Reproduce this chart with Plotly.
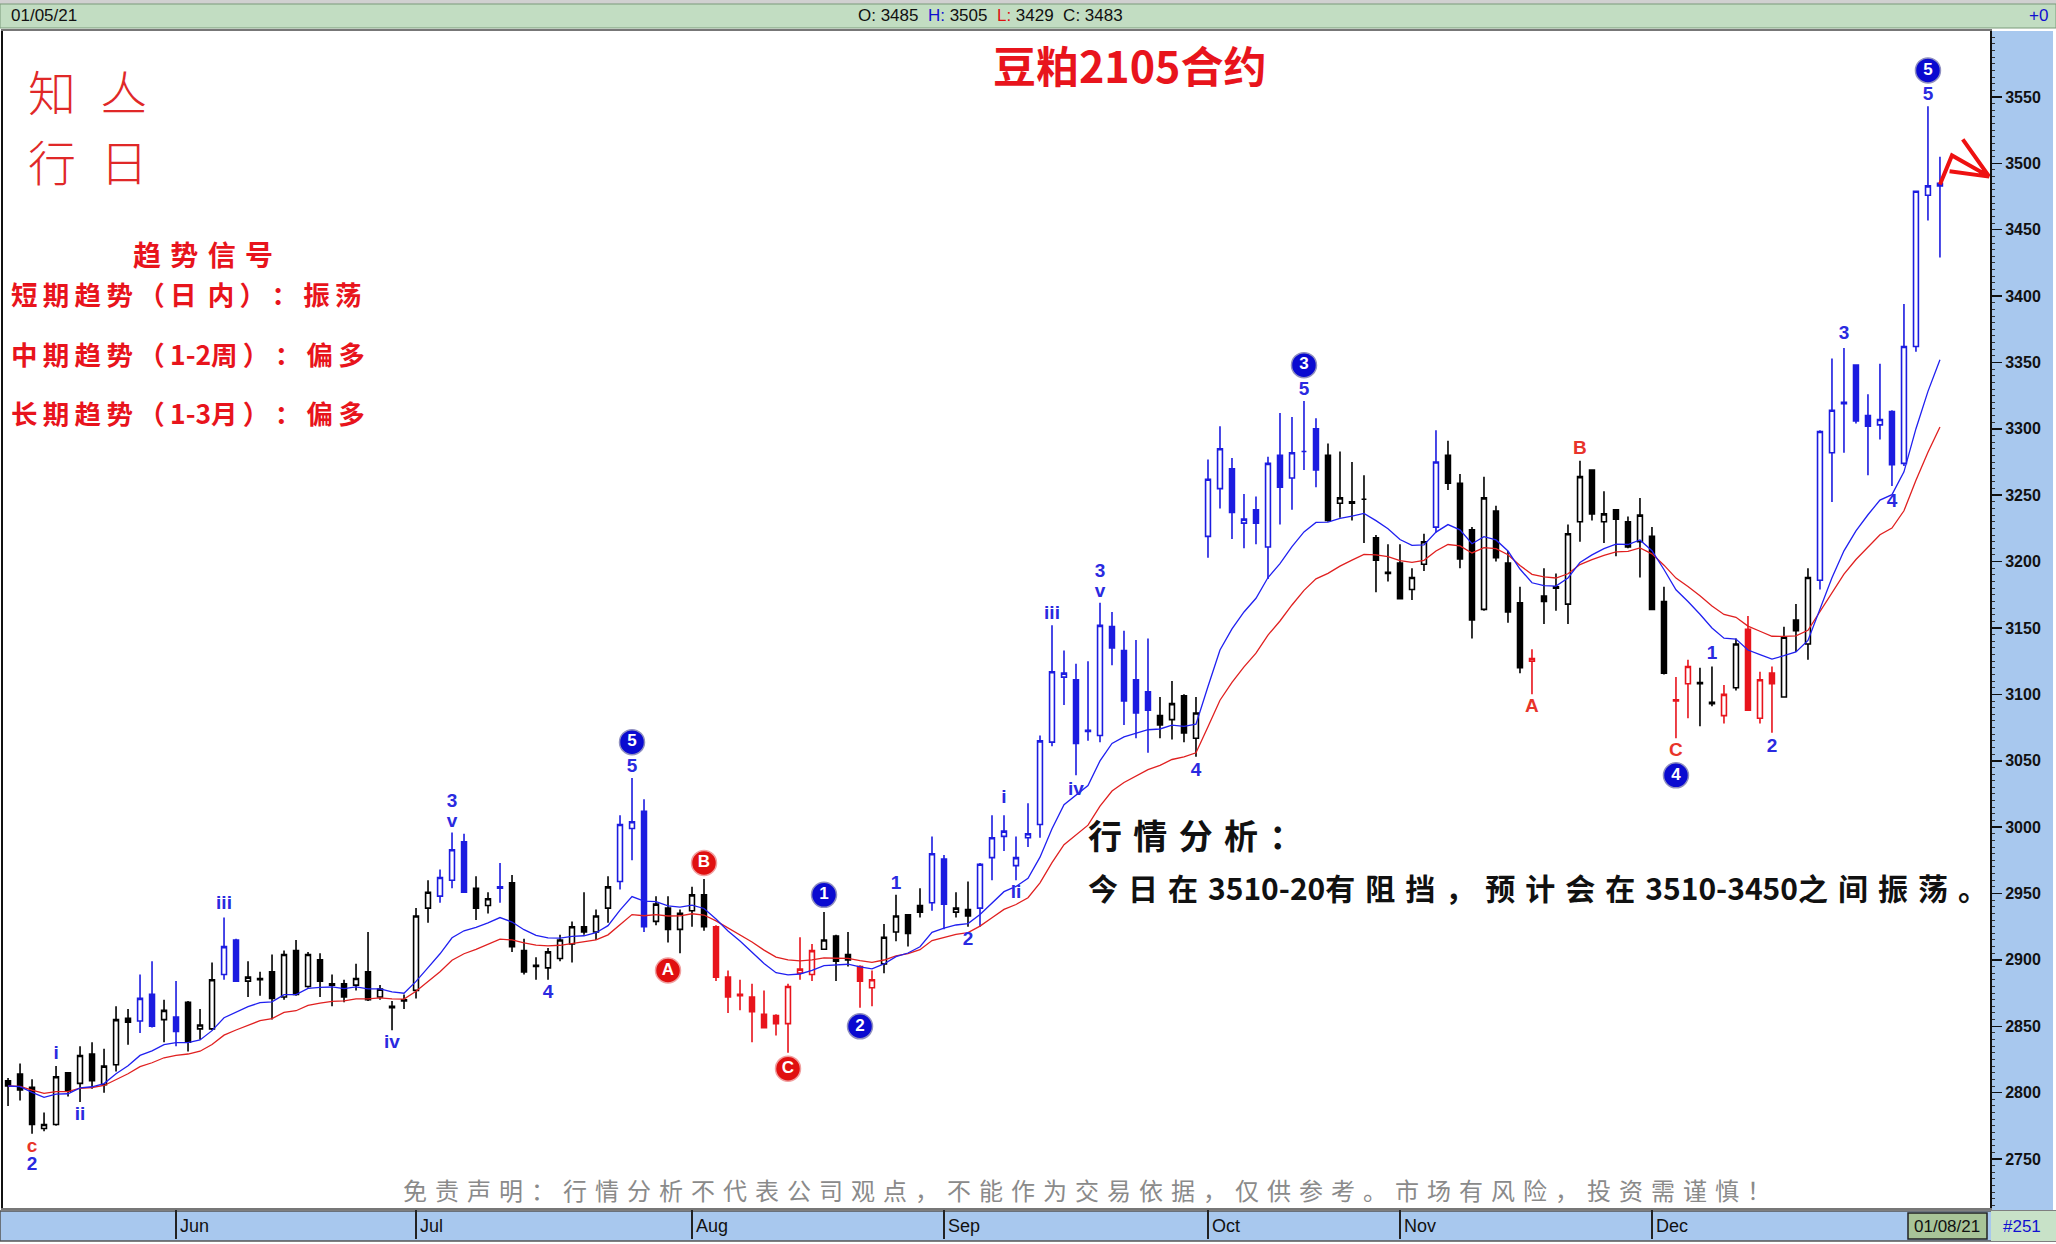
import plotly.graph_objects as go
import pandas as pd

# ---------------- data ----------------
month_labels = ["Jun", "Jul", "Aug", "Sep", "Oct", "Nov", "Dec"]
month_start = [14, 34, 57, 78, 100, 116, 137]

opens = [2809, 2814, 2804, 2773, 2776, 2815, 2807, 2829, 2806, 2821,
         2856, 2854, 2874, 2855, 2857, 2868, 2848, 2848, 2889, 2915,
         2884, 2886, 2891, 2872, 2907, 2880, 2900, 2882, 2882, 2881,
         2891, 2872, 2865, 2870, 2877, 2939, 2948, 2960, 2989, 2954,
         2941, 2955, 2958, 2907, 2896, 2894, 2901, 2912, 2925, 2921,
         2939, 2959, 2999, 3012, 2929, 2939, 2923, 2937, 2949, 2925,
         2887, 2874, 2872, 2859, 2858, 2852, 2890, 2889, 2908, 2918,
         2904, 2895, 2879, 2897, 2921, 2934, 2941, 2943, 2976, 2936,
         2938, 2939, 2977, 2993, 2971, 2992, 3002, 3064, 3113, 3111,
         3073, 3069, 3151, 3133, 3111, 3102, 3084, 3081, 3099, 3067,
         3219, 3255, 3270, 3229, 3239, 3211, 3280, 3263, 3283, 3300,
         3280, 3244, 3245, 3247, 3218, 3192, 3199, 3179, 3198, 3226,
         3280, 3259, 3224, 3164, 3238, 3199, 3169, 3125, 3174, 3181,
         3168, 3230, 3269, 3230, 3239, 3230, 3215, 3219, 3170, 3096,
         3108, 3109, 3094, 3084, 3105, 3149, 3082, 3116, 3098, 3156,
         3138, 3186, 3282, 3319, 3348, 3310, 3303, 3313, 3274, 3362,
         3476, 3485]
highs = [2811, 2822, 2810, 2785, 2820, 2815, 2835, 2838, 2833, 2865,
         2863, 2889, 2899, 2870, 2884, 2869, 2863, 2898, 2932, 2916,
         2899, 2891, 2904, 2907, 2915, 2906, 2905, 2889, 2885, 2897,
         2921, 2881, 2869, 2874, 2939, 2960, 2968, 2996, 2995, 2963,
         2951, 2973, 2964, 2916, 2902, 2909, 2919, 2929, 2951, 2938,
         2963, 3009, 3037, 3021, 2948, 2948, 2938, 2955, 2961, 2926,
         2892, 2885, 2882, 2877, 2859, 2882, 2917, 2912, 2936, 2919,
         2921, 2896, 2892, 2927, 2949, 2934, 2954, 2993, 2979, 2951,
         2959, 2973, 3009, 3009, 2993, 3018, 3069, 3152, 3133, 3123,
         3125, 3169, 3162, 3148, 3141, 3142, 3098, 3110, 3100, 3098,
         3277, 3302, 3278, 3251, 3249, 3279, 3312, 3309, 3321, 3308,
         3289, 3283, 3275, 3265, 3220, 3213, 3213, 3195, 3221, 3299,
         3291, 3266, 3226, 3264, 3242, 3208, 3181, 3134, 3195, 3191,
         3228, 3276, 3269, 3253, 3239, 3234, 3248, 3226, 3181, 3113,
         3126, 3120, 3121, 3107, 3142, 3159, 3117, 3121, 3151, 3168,
         3195, 3299, 3353, 3361, 3348, 3326, 3349, 3314, 3394, 3479,
         3543, 3505]
lows = [2790, 2794, 2769, 2771, 2775, 2797, 2793, 2803, 2800, 2816,
        2836, 2845, 2849, 2838, 2835, 2831, 2840, 2847, 2885, 2884,
        2872, 2873, 2855, 2870, 2873, 2879, 2872, 2865, 2868, 2877,
        2869, 2870, 2847, 2863, 2871, 2928, 2943, 2954, 2951, 2930,
        2935, 2943, 2906, 2889, 2885, 2885, 2899, 2898, 2919, 2915,
        2928, 2953, 2975, 2921, 2926, 2913, 2905, 2925, 2922, 2884,
        2860, 2862, 2838, 2849, 2843, 2830, 2885, 2884, 2908, 2884,
        2895, 2864, 2865, 2890, 2914, 2910, 2932, 2937, 2923, 2932,
        2925, 2925, 2960, 2982, 2960, 2985, 2992, 3061, 3092, 3039,
        3065, 3064, 3122, 3077, 3067, 3056, 3067, 3066, 3064, 3053,
        3203, 3240, 3217, 3210, 3213, 3187, 3228, 3239, 3269, 3256,
        3230, 3233, 3231, 3214, 3177, 3185, 3172, 3171, 3193, 3222,
        3254, 3195, 3142, 3163, 3200, 3154, 3116, 3100, 3153, 3163,
        3153, 3215, 3231, 3214, 3204, 3210, 3188, 3164, 3115, 3067,
        3082, 3076, 3091, 3078, 3103, 3088, 3078, 3071, 3098, 3132,
        3126, 3179, 3245, 3282, 3304, 3265, 3292, 3257, 3272, 3358,
        3457, 3429]
closes = [2805, 2802, 2776, 2776, 2812, 2801, 2828, 2809, 2820, 2855,
          2853, 2871, 2850, 2862, 2846, 2838, 2851, 2885, 2910, 2884,
          2887, 2885, 2871, 2904, 2874, 2904, 2884, 2881, 2872, 2886,
          2870, 2878, 2864, 2869, 2933, 2951, 2962, 2983, 2951, 2939,
          2946, 2954, 2910, 2891, 2895, 2906, 2915, 2925, 2921, 2933,
          2955, 3002, 3004, 2925, 2942, 2923, 2935, 2949, 2925, 2887,
          2872, 2873, 2861, 2849, 2852, 2880, 2893, 2907, 2915, 2899,
          2900, 2884, 2885, 2917, 2933, 2920, 2936, 2980, 2942, 2939,
          2933, 2972, 2992, 2997, 2977, 2995, 3065, 3117, 3116, 3063,
          3072, 3152, 3135, 3095, 3086, 3088, 3077, 3093, 3071, 3086,
          3262, 3285, 3237, 3232, 3229, 3274, 3256, 3282, 3283, 3269,
          3231, 3248, 3244, 3247, 3201, 3191, 3172, 3188, 3215, 3275,
          3259, 3202, 3156, 3248, 3203, 3162, 3120, 3127, 3170, 3180,
          3221, 3264, 3236, 3236, 3232, 3211, 3235, 3164, 3116, 3095,
          3121, 3108, 3093, 3100, 3138, 3088, 3111, 3108, 3143, 3148,
          3188, 3298, 3314, 3320, 3306, 3302, 3307, 3273, 3362, 3479,
          3483, 3483]

# wave colouring of each bar: k = plain, b = blue wave, r = red correction
wave_runs = [("k", 11), ("b", 2), ("k", 1), ("b", 1), ("k", 3), ("b", 2), ("k", 16),
             ("b", 3), ("k", 2), ("b", 1), ("k", 9), ("b", 3), ("k", 5), ("r", 9),
             ("k", 3), ("r", 2), ("k", 4), ("b", 2), ("k", 2), ("b", 15), ("k", 4),
             ("b", 10), ("k", 9), ("b", 1), ("k", 7), ("r", 1), ("k", 11), ("r", 2),
             ("k", 2), ("r", 1), ("k", 1), ("r", 3), ("k", 3), ("b", 11)]
wave_color = [c for c, n in wave_runs for _ in range(n)]

# wave labels: bar index, price, text, kind
label_idx = [2, 2, 4, 6, 18, 32, 37, 37, 45, 52, 52, 55, 58, 65, 68, 71, 74, 80,
             83, 84, 87, 89, 91, 91, 99, 108, 108, 127, 131, 139, 139, 142, 147,
             153, 157, 160, 160]
label_price = [2759, 2745, 2829, 2783, 2942, 2837, 3019, 3004, 2875, 3045, 3064,
               2892, 2973, 2818, 2949, 2850, 2957, 2915, 3022, 2950, 3160, 3028,
               3192, 3177, 3042, 3329, 3348, 3090, 3285, 3057, 3039, 3130, 3060,
               3371, 3245, 3551, 3570]
label_text = ["c", "2", "i", "ii", "iii", "iv", "3", "v", "4", "5", "5", "A", "B",
              "C", "1", "2", "1", "2", "i", "ii", "iii", "iv", "3", "v", "4", "5",
              "3", "A", "B", "C", "4", "1", "2", "3", "4", "5", "5"]
label_kind = ["rt", "bt", "bt", "bt", "bt", "bt", "bt", "bt", "bt", "bt", "bc",
              "rc", "rc", "rc", "bc", "bc", "bt", "bt", "bt", "bt", "bt", "bt",
              "bt", "bt", "bt", "bt", "bc", "rt", "rt", "rt", "bc", "bt", "bt",
              "bt", "bt", "bt", "bc"]

header_date = "01/05/21"
header_o, header_h, header_l, header_c = 3485, 3505, 3429, 3483

# ---------------- figure ----------------
W, H = 2056, 1244
BLUE = "#1c1ce0"
RED = "#e8141c"
fig = go.Figure()

styles = {
    "k": ("#000000", "#ffffff", "#000000"),
    "b": (BLUE, "#ffffff", BLUE),
    "r": (RED, "#ffffff", RED),
}
for g, (lc, upfill, dnfill) in styles.items():
    ids = [i for i, c in enumerate(wave_color) if c == g]
    fig.add_trace(go.Candlestick(
        x=ids,
        open=[opens[i] for i in ids], high=[highs[i] for i in ids],
        low=[lows[i] for i in ids], close=[closes[i] for i in ids],
        increasing=dict(line=dict(color=lc, width=1.6), fillcolor=upfill),
        decreasing=dict(line=dict(color=lc, width=1.6), fillcolor=dnfill),
        whiskerwidth=0, hoverinfo="skip", showlegend=False))

cs = pd.Series(closes, dtype=float)
ma_fast = cs.ewm(span=12, adjust=False).mean()
ma_slow = cs.ewm(span=20, adjust=False).mean()
xs = list(range(len(closes)))
fig.add_trace(go.Scatter(x=xs, y=ma_slow, mode="lines",
                         line=dict(color="#e02020", width=1.3), hoverinfo="skip"))
fig.add_trace(go.Scatter(x=xs, y=ma_fast, mode="lines",
                         line=dict(color="#2020f0", width=1.3), hoverinfo="skip"))

# wave labels
for kind, col in [("bt", "#2a2ae0"), ("rt", "#e8342a")]:
    sel = [k for k, kk in enumerate(label_kind) if kk == kind]
    fig.add_trace(go.Scatter(
        x=[label_idx[k] for k in sel], y=[label_price[k] for k in sel],
        text=["<b>%s</b>" % label_text[k] for k in sel], mode="text",
        textfont=dict(family="Liberation Sans, Arial", size=19, color=col),
        textposition="middle center", hoverinfo="skip"))
for kind, col in [("bc", "#0a0ad0"), ("rc", "#e01010")]:
    sel = [k for k, kk in enumerate(label_kind) if kk == kind]
    fig.add_trace(go.Scatter(
        x=[label_idx[k] for k in sel], y=[label_price[k] for k in sel],
        text=["<b>%s</b>" % label_text[k] for k in sel], mode="markers+text",
        marker=dict(size=25, color=col, line=dict(color="#9090c0" if kind == "bc" else "#f0a0a0", width=1.5)),
        textfont=dict(family="Liberation Sans, Arial", size=17, color="white"),
        textposition="middle center", hoverinfo="skip"))

x0d, x1d = 3 / W, 1990 / W
y0d, y1d = 1 - 1208 / H, 1 - 31 / H

fig.update_layout(
    width=W, height=H, margin=dict(l=0, r=0, t=0, b=0),
    paper_bgcolor="white", plot_bgcolor="white", showlegend=False,
    hovermode=False, boxgap=0.42,
    xaxis=dict(domain=[x0d, x1d], range=[-0.42, 165.17], showgrid=False, zeroline=False,
               rangeslider=dict(visible=False), tickvals=month_start,
               ticktext=[""] * len(month_start), ticks="outside", ticklen=29,
               tickwidth=1.5, tickcolor="#222", showline=True, linecolor="#777",
               linewidth=2, mirror=True),
    yaxis=dict(domain=[y0d, y1d], range=[2713.1, 3599.7], side="right", dtick=50,
               tick0=0, ticks="outside", ticklen=10, tickwidth=1.5, tickcolor="#111",
               showgrid=False, zeroline=False, showline=True, linecolor="#111",
               linewidth=2, mirror=True,
               tickfont=dict(family="Liberation Sans, Arial", size=16, color="#111", weight="bold"),
               minor=dict(dtick=5, ticks="outside", ticklen=3, tickcolor="#333", tickwidth=1)),
)

shapes = [
    dict(type="rect", xref="paper", yref="paper", x0=0, x1=1, y0=1 - 4 / H, y1=1,
         fillcolor="#d0d0d0", line=dict(width=0), layer="below"),
    dict(type="rect", xref="paper", yref="paper", x0=0, x1=1, y0=1 - 28 / H, y1=1 - 4 / H,
         fillcolor="#c2ddc2", line=dict(color="#7a9a7a", width=1), layer="below"),
    dict(type="rect", xref="paper", yref="paper", x0=x1d, x1=1 - 3 / W, y0=1 - 1210 / H, y1=y1d,
         fillcolor="#a8c8ee", line=dict(width=0), layer="below"),
    dict(type="rect", xref="paper", yref="paper", x0=0, x1=1, y0=1 - 1241 / H, y1=1 - 1211 / H,
         fillcolor="#a8c8ee", line=dict(color="#555", width=1.5), layer="below"),
    dict(type="rect", xref="paper", yref="paper", x0=1908 / W, x1=1987 / W, y0=1 - 1239 / H,
         y1=1 - 1213 / H, fillcolor="#a8c498", line=dict(color="#222", width=1.5)),
    dict(type="rect", xref="paper", yref="paper", x0=1991 / W, x1=1, y0=1 - 1241 / H,
         y1=1 - 1211 / H, fillcolor="#c8e2c8", line=dict(width=0)),
    dict(type="path", xref="x", yref="y",
         path="M 161,3484 L 162,3506 L 165.1,3490 L 161.8,3494 M 162.9,3518 L 165.1,3490",
         line=dict(color="#ee1111", width=4)),
]
fig.update_layout(shapes=shapes)


def spaced(s, sp="\u2009"):
    return "".join(c + (sp if ord(c) > 0x2E80 else "") for c in s).rstrip(sp)


CJK = "Noto Sans CJK SC"
ann = []


def A(text, x, y, size, color, xanchor="center", family=CJK, weight=None, **kw):
    f = dict(family=family, size=size, color=color)
    if weight:
        f["weight"] = weight
    ann.append(dict(text=text, x=x / W, y=1 - y / H, xref="paper", yref="paper",
                    showarrow=False, xanchor=xanchor, yanchor="middle", font=f, **kw))


A("知\u2002亼", 88, 90, 48, "#e02828", weight=300)
A("行\u2002日", 88, 160, 48, "#e02828", weight=300)
A("<b>豆粕2105合约</b>", 1129, 64, 43, RED)
A("<b>" + spaced("趋势信号", "\u2004") + "</b>", 203, 254, 28, RED)
A("<b>" + spaced("短期趋势（日 内）：振荡") + "</b>", 9, 294, 26.5, RED, "left")
A("<b>" + spaced("中期趋势（1-2周）：偏多") + "</b>", 9, 353, 26.5, RED, "left")
A("<b>" + spaced("长期趋势（1-3月）：偏多") + "</b>", 9, 413, 26.5, RED, "left")
A("<b>" + spaced("行情分析：", "\u2004") + "</b>", 1086, 834, 34, "#111", "left")
A("<b>" + spaced("今日在3510-20有阻挡，预计会在3510-3450之间振荡。", "\u2004") + "</b>",
  1086, 887, 30, "#111", "left")
A(spaced("免责声明：行情分析不代表公司观点，不能作为交易依据，仅供参考。市场有风险，投资需谨慎！", "\u2004"),
  1087, 1189, 24, "#8a8a8a")

NARROW = "Liberation Sans Narrow, Arial Narrow, Liberation Sans"
A(header_date, 9, 16, 17, "#111", "left", NARROW)
A("O: %d &nbsp;<span style='color:#1010d0'>H:</span> %d &nbsp;<span style='color:#e01010'>L:</span> %d &nbsp;C: %d"
  % (header_o, header_h, header_l, header_c), 990, 16, 17, "#111", "center", NARROW)
A("+0", 2050, 16, 17, "#1010d0", "right", NARROW)
A("01/08/21", 1947, 1226, 17, "#111", "center", NARROW)
A("#251", 2022, 1226, 17, "#1010d0", "center", NARROW)

for lab, pos in zip(month_labels, month_start):
    ann.append(dict(text=lab, x=pos, y=1 - 1226 / H, xref="x", yref="paper", showarrow=False,
                    xanchor="left", yanchor="middle", xshift=2,
                    font=dict(family=NARROW, size=18, color="#111")))

fig.update_layout(annotations=ann)

fig.write_html("out.html", config={"displayModeBar": False, "staticPlot": True},
               post_script="document.body.style.margin='0';document.body.style.overflow='hidden';")
